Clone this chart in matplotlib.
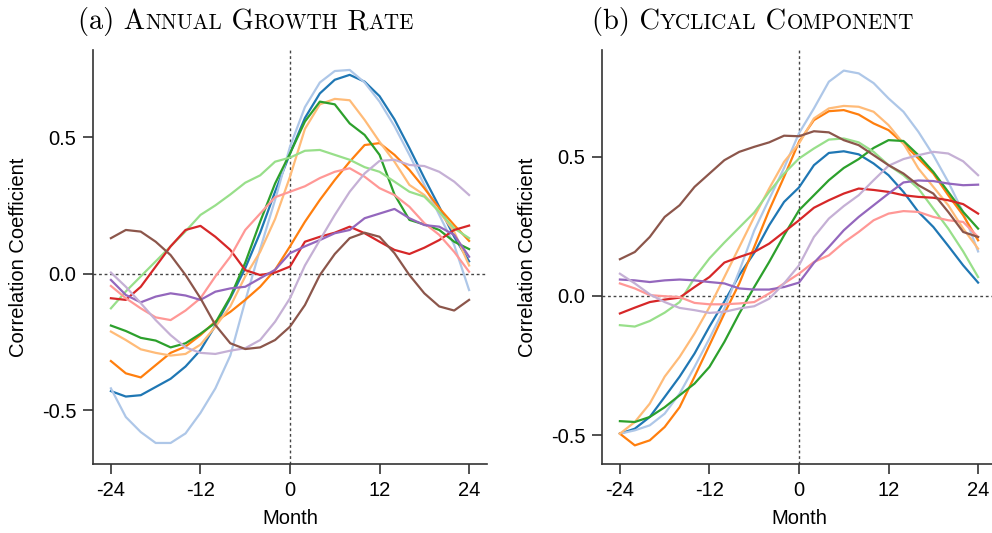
import matplotlib
matplotlib.use('Agg')
import matplotlib.pyplot as plt
import numpy as np

plt.rcParams['font.family'] = ['Liberation Sans', 'DejaVu Sans']
plt.rcParams['axes.unicode_minus'] = False

months = list(range(-24, 25, 2))

# ---- Panel (a): Annual growth rate ----
blue_a = [-0.43, -0.45, -0.445, -0.415, -0.385, -0.34, -0.28, -0.19, -0.09, 0.02, 0.15, 0.30, 0.44,
          0.57, 0.66, 0.71, 0.728, 0.703, 0.65, 0.565, 0.46, 0.35, 0.245, 0.135, 0.045]
lightblue_a = [-0.42, -0.525, -0.58, -0.62, -0.62, -0.585, -0.51, -0.42, -0.30, -0.10, 0.09, 0.27, 0.465,
               0.61, 0.70, 0.742, 0.746, 0.70, 0.63, 0.54, 0.435, 0.325, 0.215, 0.105, -0.06]
orange_a = [-0.32, -0.365, -0.38, -0.335, -0.29, -0.267, -0.225, -0.175, -0.14, -0.096, -0.048, 0.014, 0.10,
            0.19, 0.27, 0.343, 0.41, 0.471, 0.478, 0.435, 0.38, 0.313, 0.24, 0.178, 0.12]
lightorange_a = [-0.212, -0.243, -0.277, -0.29, -0.30, -0.294, -0.26, -0.194, -0.12, -0.01, 0.08, 0.20, 0.355,
                 0.53, 0.62, 0.64, 0.635, 0.563, 0.483, 0.41, 0.325, 0.288, 0.227, 0.154, 0.03]
green_a = [-0.19, -0.21, -0.235, -0.245, -0.27, -0.255, -0.22, -0.18, -0.085, 0.04, 0.19, 0.33, 0.44,
           0.557, 0.63, 0.62, 0.55, 0.508, 0.435, 0.29, 0.197, 0.18, 0.16, 0.117, 0.09]
lightgreen_a = [-0.127, -0.065, -0.01, 0.045, 0.10, 0.155, 0.215, 0.25, 0.29, 0.333, 0.36, 0.41, 0.425,
                0.45, 0.453, 0.435, 0.417, 0.39, 0.373, 0.337, 0.30, 0.282, 0.227, 0.166, 0.13]
red_a = [-0.09, -0.096, -0.048, 0.026, 0.10, 0.16, 0.175, 0.135, 0.087, 0.013, -0.005, 0.004, 0.026,
         0.117, 0.135, 0.15, 0.172, 0.148, 0.117, 0.087, 0.072, 0.095, 0.123, 0.16, 0.176]
pink_a = [-0.045, -0.09, -0.127, -0.16, -0.17, -0.135, -0.09, -0.01, 0.062, 0.16, 0.22, 0.28, 0.30,
          0.32, 0.35, 0.373, 0.386, 0.355, 0.313, 0.288, 0.245, 0.185, 0.142, 0.08, 0.007]
purple_a = [-0.023, -0.078, -0.105, -0.084, -0.072, -0.08, -0.096, -0.066, -0.054, -0.048, -0.017, 0.014, 0.075,
            0.10, 0.123, 0.148, 0.16, 0.203, 0.22, 0.237, 0.203, 0.178, 0.172, 0.142, 0.062]
lightpurple_a = [0.004, -0.048, -0.108, -0.17, -0.225, -0.27, -0.29, -0.294, -0.282, -0.273, -0.243, -0.176, -0.09,
                 0.03, 0.123, 0.215, 0.30, 0.367, 0.413, 0.417, 0.398, 0.394, 0.373, 0.337, 0.288]
brown_a = [0.13, 0.16, 0.154, 0.117, 0.068, -0.005, -0.09, -0.188, -0.255, -0.276, -0.27, -0.243, -0.194,
           -0.115, -0.005, 0.072, 0.13, 0.15, 0.135, 0.075, -0.005, -0.072, -0.12, -0.135, -0.096]

# ---- Panel (b): Cyclical component ----
blue_b = [-0.495, -0.477, -0.435, -0.363, -0.29, -0.207, -0.11, -0.02, 0.075, 0.155, 0.254, 0.338, 0.39,
          0.47, 0.514, 0.52, 0.509, 0.476, 0.434, 0.374, 0.302, 0.248, 0.18, 0.11, 0.048]
lightblue_b = [-0.495, -0.483, -0.465, -0.423, -0.351, -0.255, -0.153, -0.045, 0.09, 0.235, 0.348, 0.46, 0.585,
               0.674, 0.77, 0.81, 0.80, 0.765, 0.71, 0.662, 0.59, 0.506, 0.41, 0.30, 0.16]
orange_b = [-0.495, -0.537, -0.519, -0.471, -0.40, -0.29, -0.177, -0.063, 0.045, 0.176, 0.308, 0.428, 0.554,
            0.632, 0.664, 0.668, 0.652, 0.62, 0.596, 0.548, 0.494, 0.44, 0.362, 0.29, 0.20]
lightorange_b = [-0.495, -0.453, -0.387, -0.29, -0.219, -0.135, -0.04, 0.068, 0.176, 0.284, 0.386, 0.482, 0.548,
                 0.638, 0.674, 0.683, 0.68, 0.662, 0.614, 0.548, 0.458, 0.392, 0.326, 0.242, 0.17]
green_b = [-0.45, -0.453, -0.435, -0.40, -0.357, -0.315, -0.255, -0.165, -0.063, 0.032, 0.122, 0.218, 0.308,
           0.362, 0.416, 0.46, 0.492, 0.532, 0.56, 0.557, 0.506, 0.446, 0.374, 0.302, 0.242]
lightgreen_b = [-0.105, -0.11, -0.09, -0.06, -0.022, 0.065, 0.135, 0.192, 0.246, 0.30, 0.374, 0.44, 0.494,
                0.53, 0.562, 0.566, 0.552, 0.518, 0.47, 0.434, 0.386, 0.314, 0.242, 0.16, 0.068]
red_b = [-0.063, -0.042, -0.022, -0.013, -0.006, 0.032, 0.068, 0.12, 0.14, 0.158, 0.188, 0.23, 0.272,
         0.317, 0.344, 0.368, 0.386, 0.381, 0.374, 0.362, 0.356, 0.353, 0.344, 0.33, 0.296]
pink_b = [0.045, 0.027, 0.003, -0.001, -0.004, -0.025, -0.03, -0.03, -0.027, -0.022, 0.009, 0.045, 0.08,
          0.122, 0.146, 0.192, 0.23, 0.272, 0.296, 0.305, 0.302, 0.284, 0.272, 0.266, 0.212]
purple_b = [0.059, 0.056, 0.05, 0.056, 0.059, 0.056, 0.05, 0.045, 0.027, 0.023, 0.023, 0.032, 0.048,
            0.119, 0.176, 0.236, 0.284, 0.326, 0.368, 0.408, 0.415, 0.413, 0.404, 0.398, 0.40]
lightpurple_b = [0.08, 0.045, 0.006, -0.022, -0.043, -0.051, -0.061, -0.057, -0.045, -0.037, -0.01, 0.045, 0.11,
                 0.212, 0.278, 0.323, 0.362, 0.416, 0.468, 0.492, 0.506, 0.518, 0.512, 0.484, 0.434]
brown_b = [0.132, 0.158, 0.212, 0.284, 0.326, 0.392, 0.44, 0.488, 0.518, 0.536, 0.552, 0.576, 0.574,
           0.592, 0.588, 0.56, 0.542, 0.506, 0.47, 0.44, 0.398, 0.368, 0.302, 0.23, 0.212]

series_a = [blue_a, lightblue_a, orange_a, lightorange_a, green_a, lightgreen_a,
            red_a, pink_a, purple_a, lightpurple_a, brown_a]
series_b = [blue_b, lightblue_b, orange_b, lightorange_b, green_b, lightgreen_b,
            red_b, pink_b, purple_b, lightpurple_b, brown_b]
colors = ['#1f77b4', '#aec7e8', '#ff7f0e', '#ffbb78', '#2ca02c', '#98df8a',
          '#d62728', '#ff9896', '#9467bd', '#c5b0d5', '#8c564b']

xticks = [-24, -12, 0, 12, 24]
xticklabels = ['-24', '-12', '0', '12', '24']
yticks = [-0.5, 0.0, 0.5]
yticklabels = ['-0.5', '0.0', '0.5']

W, H = 992, 533
fig = plt.figure(figsize=(W / 100, H / 100), dpi=100)
ax1 = fig.add_axes([93 / W, 69 / H, 394 / W, 414 / H])
ax2 = fig.add_axes([602 / W, 69 / H, 394 / W, 414 / H])

spine_col = '#333333'
fs = 14.5
for ax, series, ylim in [(ax1, series_a, (-0.697, 0.819)), (ax2, series_b, (-0.604, 0.884))]:
    for vals, c in zip(series, colors):
        ax.plot(months, vals, color=c, lw=1.6, solid_joinstyle='round')
    ax.axvline(0, color='#444444', lw=1.0, ls=(0, (2, 2)), zorder=0)
    ax.axhline(0, color='#444444', lw=1.0, ls=(0, (2, 2)), zorder=0)
    ax.set_xlim(-26.4, 26.4)
    ax.set_ylim(*ylim)
    ax.set_xticks(xticks)
    ax.set_xticklabels(xticklabels)
    ax.set_yticks(yticks)
    ax.set_yticklabels(yticklabels)
    for s in ['top', 'right']:
        ax.spines[s].set_visible(False)
    for s in ['left', 'bottom']:
        ax.spines[s].set_color(spine_col)
        ax.spines[s].set_linewidth(1.2)
    ax.tick_params(direction='out', length=7, width=1.2, color=spine_col,
                   labelsize=fs, labelcolor='black', pad=5)
    ax.set_xlabel('Month', fontsize=fs, labelpad=7)
    ax.set_ylabel('Correlation Coefficient', fontsize=fs, labelpad=10)
    ax.patch.set_alpha(0)


def smallcaps_title(x_px, base_px, parts):
    renderer = fig.canvas.get_renderer()
    x = x_px
    for s, size in parts:
        t = fig.text(x / W, 1 - base_px / H, s, fontsize=size, family='cmr10',
                     va='baseline', ha='left')
        x += t.get_window_extent(renderer).width


big, small = 20.5, 15.2
smallcaps_title(78, 29, [('(a) A', big), ('NNUAL', small), (' G', big), ('ROWTH', small),
                         (' R', big), ('ATE', small)])
smallcaps_title(592, 29, [('(b) C', big), ('YCLICAL', small), (' C', big), ('OMPONENT', small)])

fig.savefig('out.png', dpi=100)
